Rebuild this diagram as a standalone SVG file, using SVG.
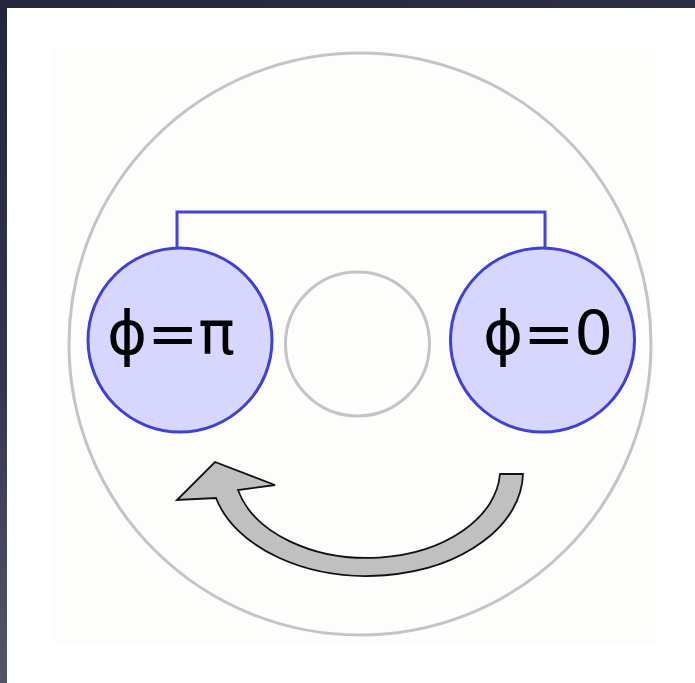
<svg xmlns="http://www.w3.org/2000/svg" width="695" height="683" viewBox="0 0 695 683">
<defs>
<linearGradient id="bg" x1="0" y1="0" x2="0.3" y2="1">
<stop offset="0" stop-color="#24253f"/>
<stop offset="0.5" stop-color="#34344c"/>
<stop offset="1" stop-color="#5a5b70"/>
</linearGradient>
<style>
.ring{fill:none;stroke:#c4c4c4;stroke-width:3}
.node{fill:#d6d6ff;stroke:#4040d4;stroke-width:3}
.lbl{font-family:"DejaVu Sans",sans-serif;font-size:61px;fill:#000;text-anchor:middle}
.conn{fill:none;stroke:#4444dd;stroke-width:3}
</style>
</defs>
<rect x="0" y="0" width="695" height="683" fill="url(#bg)"/>
<rect x="7" y="8" width="688" height="675" fill="#ffffff"/>
<rect x="53" y="47" width="604" height="596" fill="#fdfdfc"/>
<circle cx="360" cy="344" r="291" class="ring"/>
<circle id="hole" cx="357.5" cy="344" r="72" class="ring"/>
<g id="connectors">
<polyline class="conn" points="177,250 177,212 545,212 545,250"/>
</g>
<g id="node-pi">
<circle cx="180" cy="340" r="92" class="node"/>
<text x="171" y="354" class="lbl">ϕ=π</text>
</g>
<g id="node-0">
<circle cx="542.5" cy="340" r="92" class="node"/>
<text x="548" y="354" class="lbl">ϕ=0</text>
</g>
<g id="rotation-arrow">
<path d="M 523 474 A 156 104 0 0 1 216 498 L 177 500 L 215 462 L 275 485 L 238 490 A 133 89 0 0 0 500 474 Z" fill="#c0c0c0" stroke="#111" stroke-width="1.8" stroke-linejoin="miter"/>
</g>
</svg>
